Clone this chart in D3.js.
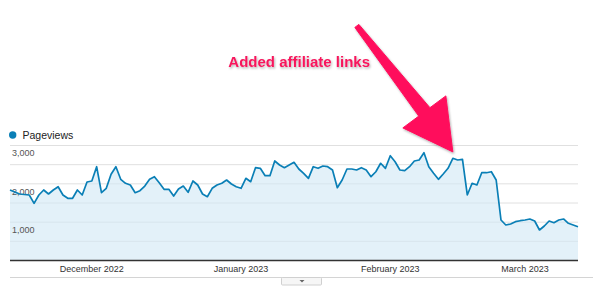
<!DOCTYPE html>
<html><head><meta charset="utf-8">
<script src="https://cdn.jsdelivr.net/npm/d3@7"></script>
<style>html,body{margin:0;padding:0;background:#fff;} svg{display:block;font-family:"Liberation Sans",Arial,Helvetica,sans-serif;}</style>
</head><body><svg id="c" width="600" height="297"></svg>
<script>
// ---- data ----
const startDate = "2022-11-14";
const pageviews = [
 1826,1774,1722,1709,1696,1479,1696,1826,1722,1826,
 1912,1696,1610,1610,1826,1696,2035,2061,2434,1756,
 1870,2236,2434,2105,2001,1957,1756,1808,1930,2105,
 2173,2017,1844,1844,1670,1852,1930,1766,2061,1957,
 1722,1651,1870,1957,2001,2087,1983,1912,1870,2131,
 2043,2408,2392,2199,2199,2583,2478,2408,2478,2549,
 2374,2262,2131,2434,2392,2452,2434,2348,1886,2087,
 2374,2374,2348,2408,2348,2173,2303,2523,2392,2721,
 2564,2348,2330,2434,2583,2609,2799,2434,2262,2105,
 2243,2392,2653,2609,2627,1696,2001,1957,2277,2277,
 2303,2087,1043,913,939,999,1025,1043,1070,1017,
 783,887,1017,973,1043,1070,957,913,869
];
const seriesName = "Pageviews";
const yTickValues = [1000, 2000, 3000];
const yTickLabels = ["1,000", "2,000", "3,000"];
const gridValues = [500, 1000, 1500, 2000, 2500, 3000];
const monthTicks = ["2022-12-01", "2023-01-01", "2023-02-01", "2023-03-01"];
const monthLabels = ["December 2022", "January 2023", "February 2023", "March 2023"];
const annotationText = "Added affiliate links";
const annotationDayIndex = 92;
const annotationValue = 2820;

// ---- setup ----
const svg = d3.select("#c");
const parse = d3.timeParse("%Y-%m-%d");
const start = parse(startDate);
const dates = pageviews.map((_, i) => d3.timeDay.offset(start, i));
const data = pageviews.map((v, i) => ({ date: dates[i], value: v }));

const x = d3.scaleTime().domain([dates[0], dates[dates.length - 1]]).range([10, 578]);
const y = d3.scaleLinear().domain([0, 3000]).range([260, 145]);

const defs = svg.append("defs");
const f = defs.append("filter").attr("id", "sh").attr("x", "-20%").attr("y", "-20%").attr("width", "140%").attr("height", "140%");
f.append("feDropShadow").attr("dx", 1).attr("dy", 1.5).attr("stdDeviation", 1).attr("flood-color", "#000").attr("flood-opacity", 0.3);

// gridlines (outside area)
svg.append("g").selectAll("line").data(gridValues).join("line")
  .attr("x1", x.range()[0]).attr("x2", x.range()[1])
  .attr("y1", d => y(d) + 0.5).attr("y2", d => y(d) + 0.5)
  .attr("stroke", "#ececec").attr("stroke-width", 1);

// area
const area = d3.area().x(d => x(d.date)).y0(y(0)).y1(d => y(d.value));
svg.append("path").datum(data).attr("d", area).attr("fill", "#e3f1f9");

// gridlines over area
svg.append("g").selectAll("line").data(gridValues).join("line")
  .attr("x1", x.range()[0]).attr("x2", x.range()[1])
  .attr("y1", d => y(d) + 0.5).attr("y2", d => y(d) + 0.5)
  .attr("stroke", "#000").attr("stroke-opacity", 0.05).attr("stroke-width", 1);

// y tick labels
svg.append("g").selectAll("text").data(yTickValues).join("text")
  .attr("x", 12).attr("y", d => y(d) + 11.3)
  .attr("font-size", 9).attr("fill", "#555")
  .text((d, i) => yTickLabels[i]);

// line
const line = d3.line().x(d => x(d.date)).y(d => y(d.value));
svg.append("path").datum(data).attr("d", line)
  .attr("fill", "none").attr("stroke", "#0a7fb6").attr("stroke-width", 1.7)
  .attr("stroke-linejoin", "round");

// x axis line
svg.append("line").attr("x1", x.range()[0]).attr("x2", x.range()[1])
  .attr("y1", y(0) + 0.5).attr("y2", y(0) + 0.5)
  .attr("stroke", "#333").attr("stroke-width", 1.3);

// month labels
svg.append("g").selectAll("text").data(monthTicks).join("text")
  .attr("x", d => x(parse(d))).attr("y", 272.3)
  .attr("text-anchor", "middle").attr("font-size", 9).attr("fill", "#333")
  .text((d, i) => monthLabels[i]);

// bottom line and tab
svg.append("line").attr("x1", 10).attr("x2", 593).attr("y1", 277.5).attr("y2", 277.5)
  .attr("stroke", "#d4d4d4").attr("stroke-width", 1);
svg.append("rect").attr("x", 281.5).attr("y", 277.5).attr("width", 40).attr("height", 7.5)
  .attr("rx", 1).attr("fill", "#f6f6f6").attr("stroke", "#d0d0d0");
svg.append("path").attr("d", "M299.5,280 L304.5,280 L302,282.5 Z").attr("fill", "#666");

// legend
svg.append("circle").attr("cx", 12.7).attr("cy", 135).attr("r", 3.7).attr("fill", "#0a7fb6");
svg.append("text").attr("x", 22.5).attr("y", 138.8).attr("font-size", 10.5).attr("fill", "#222").text(seriesName);

// annotation arrow
const tx = x(dates[annotationDayIndex]), ty = y(annotationValue);
const arrowOffsets = [[-98,-124.5],[-94,-127.5],[-22.9,-44.2],[-7,-56],[0,0],[-50,-24],[-34.1,-35.8]];
svg.append("polygon")
  .attr("points", arrowOffsets.map(p => [tx + p[0], ty + p[1]].join(",")).join(" "))
  .attr("fill", "#ff0e5c").attr("stroke", "#ff0e5c").attr("stroke-width", 1).attr("stroke-linejoin", "round")
  .attr("filter", "url(#sh)");

svg.append("text").attr("x", 228.3).attr("y", 67)
  .attr("font-size", 15).attr("font-weight", "bold").attr("fill", "#f7155c")
  .attr("filter", "url(#sh)")
  .text(annotationText);
</script>
</body></html>
